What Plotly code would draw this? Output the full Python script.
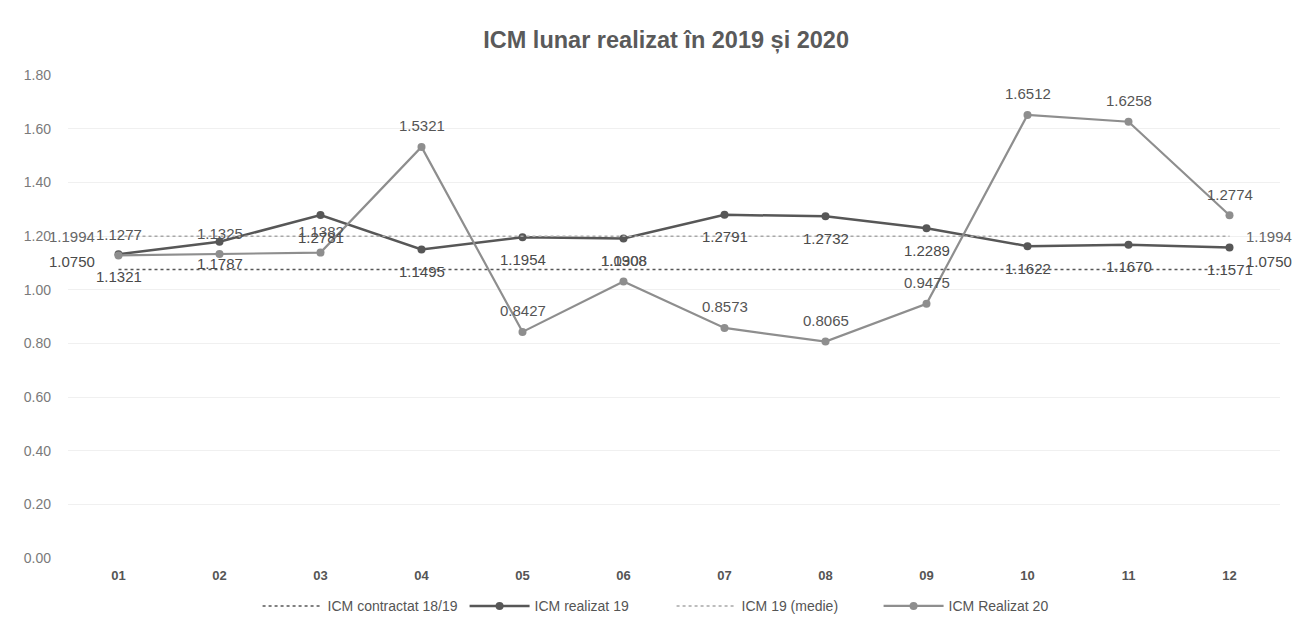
import plotly.graph_objects as go

# ── data ──
luni          = ["01", "02", "03", "04", "05", "06", "07", "08", "09", "10", "11", "12"]
icm_contr     = [1.0750] * 12
icm_real_19   = [1.1321, 1.1787, 1.2781, 1.1495, 1.1954, 1.1908, 1.2791, 1.2732, 1.2289, 1.1622, 1.1670, 1.1571]
icm_medie_19  = [1.1994] * 12
icm_real_20   = [1.1277, 1.1325, 1.1382, 1.5321, 0.8427, 1.0308, 0.8573, 0.8065, 0.9475, 1.6512, 1.6258, 1.2774]
y_ticks       = [0.0, 0.2, 0.4, 0.6, 0.8, 1.0, 1.2, 1.4, 1.6, 1.8]

FONT = "Liberation Sans, Arial, sans-serif"
DARK = "#575757"
LIGHT = "#8e8e8e"
LBL = 15

fig = go.Figure()

fig.add_trace(go.Scatter(
    x=luni, y=icm_contr, name="ICM contractat 18/19", mode="lines",
    line=dict(color=DARK, width=1.5, dash="dot"),
))
fig.add_trace(go.Scatter(
    x=luni, y=icm_real_19, name="ICM realizat 19", mode="lines+markers",
    line=dict(color=DARK, width=2.5), marker=dict(color=DARK, size=8),
))
fig.add_trace(go.Scatter(
    x=luni, y=icm_medie_19, name="ICM 19 (medie)", mode="lines",
    line=dict(color="#a8a8a8", width=1.5, dash="dot"),
))
fig.add_trace(go.Scatter(
    x=luni, y=icm_real_20, name="ICM Realizat 20", mode="lines+markers",
    line=dict(color=LIGHT, width=2.2), marker=dict(color=LIGHT, size=8),
))

# data labels: 2019 below the points, 2020 above
# (annotations take the category index, "01" would be read as the number 1)
for i, v in enumerate(icm_real_19):
    fig.add_annotation(x=i, y=v, text=f"{v:.4f}", showarrow=False, yshift=-22,
                       font=dict(color="#4a4a4a", size=LBL, family=FONT))
for i, v in enumerate(icm_real_20):
    fig.add_annotation(x=i, y=v, text=f"{v:.4f}", showarrow=False, yshift=21,
                       font=dict(color="#555555", size=LBL, family=FONT))

# constant lines: labels only at both ends
last = len(luni) - 1
for vals, dy, col in [(icm_medie_19, 0, "#666666"), (icm_contr, 8, "#4a4a4a")]:
    fig.add_annotation(x=0, y=vals[0], text=f"{vals[0]:.4f}", showarrow=False,
                       xanchor="right", xshift=-22, yshift=dy,
                       font=dict(color=col, size=LBL, family=FONT))
    fig.add_annotation(x=last, y=vals[-1], text=f"{vals[-1]:.4f}", showarrow=False,
                       xanchor="left", xshift=14, yshift=dy,
                       font=dict(color=col, size=LBL, family=FONT))

fig.update_xaxes(
    type="category", range=[-0.5, 11.5], showgrid=False, zeroline=False, showline=False,
    automargin=False, ticks="", ticklabelstandoff=8,
    tickfont=dict(size=13, color="#555555", family=FONT, weight="bold"),
)
fig.update_yaxes(
    range=[0, 1.8], tickvals=y_ticks, tickformat=".2f", automargin=False,
    showgrid=True, gridcolor="#f0f0f0", gridwidth=1, zeroline=False,
    ticklabelstandoff=16,
    tickfont=dict(size=14, color="#7a7a7a", family=FONT),
)

# page body adds an 8px offset, so the figure is drawn 8px smaller to stay in view
fig.update_layout(
    width=1293, height=628,
    margin=dict(l=60, r=21, t=67, b=78, autoexpand=False),
    paper_bgcolor="white", plot_bgcolor="white",
    title=dict(text="<b>ICM lunar realizat în 2019 și 2020</b>", x=0.509, xanchor="center",
               y=0.95, yanchor="middle",
               font=dict(size=23.5, color="#5a5a5a", family=FONT)),
    font=dict(family=FONT, color="#555555"),
    showlegend=True,
    legend=dict(orientation="h", x=0.498, xanchor="center", y=-0.1, yanchor="middle",
                itemwidth=60, entrywidth=132,
                font=dict(size=14, color="#555555", family=FONT)),
)

fig.write_html("out.html")
